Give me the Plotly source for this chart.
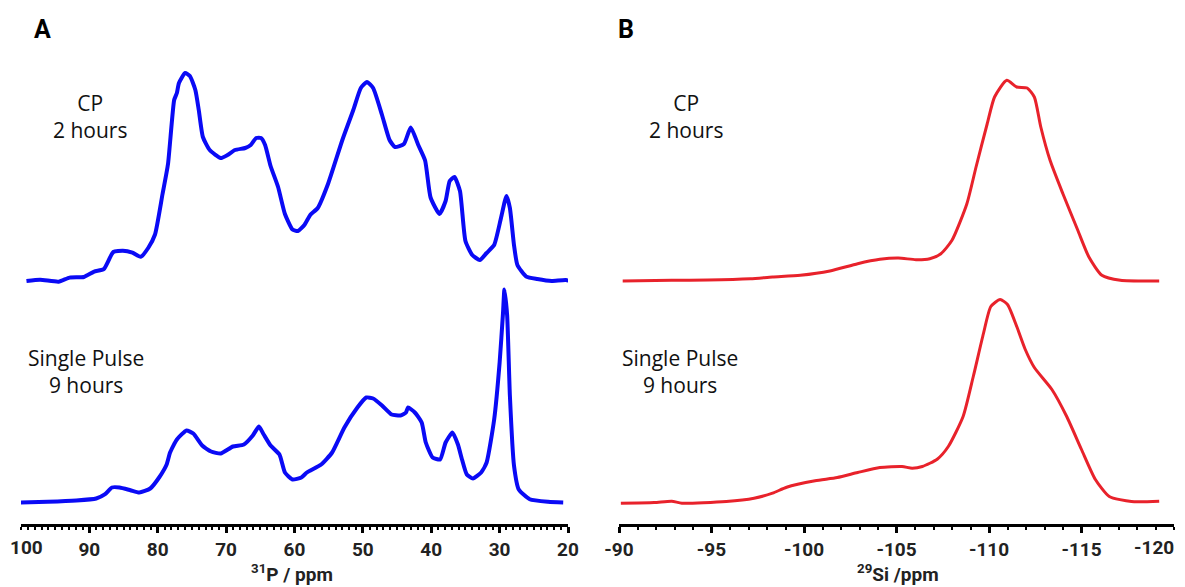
import plotly.graph_objects as go

# ---------------- data (ppm, relative intensity) ----------------
p_cp_ppm = [99.2, 97.2, 94.5, 92.9, 90.8, 89.3, 87.9, 86.5, 85.1, 83.7, 82.5, 81.4, 80.4, 79.3,
            78.5, 77.6, 77.2, 76.9, 76.0, 75.3, 74.5, 74.0, 73.4, 72.4, 70.8, 69.8, 68.7, 67.2,
            66.4, 65.6, 64.9, 64.3, 63.5, 62.4, 61.4, 60.3, 59.5, 58.5, 57.7, 56.6, 55.1, 53.0,
            51.4, 50.3, 49.4, 48.5, 47.2, 46.1, 45.3, 44.0, 43.0, 41.9, 40.9, 40.1, 38.8, 37.9,
            37.3, 36.6, 35.8, 35.0, 34.0, 32.9, 31.9, 30.8, 29.8, 29.0, 28.5, 27.9, 27.4, 26.1,
            24.5, 22.4, 20.3, 19.0]
p_cp_int = [0, 1.3, -0.7, 3.4, 4, 9.4, 11.8, 29, 30.3, 28.3, 24.2, 33, 46.5, 87,
            117, 181, 188, 198, 208, 205, 191, 171, 144, 131, 123, 126, 131, 133,
            136, 143, 143, 136, 115, 94, 67, 51.5, 50, 56.6, 66, 73, 97, 141,
            171, 193, 199, 193, 166, 141, 134, 137, 153.5, 136, 120.5, 83.5, 67, 80,
            100, 104, 90, 40, 26, 21, 28, 36, 63, 85, 73, 36, 16, 4.4,
            2, 0, 1, -2]

p_sp_ppm = [100.3, 96.1, 91.9, 89.0, 87.7, 86.7, 85.6, 84.0, 82.7, 81.1, 79.8, 78.7, 78.2, 77.2,
            75.8, 74.8, 73.5, 72.2, 70.8, 69.0, 67.4, 66.1, 65.2, 64.5, 63.5, 62.2, 61.4, 60.3,
            59.0, 58.2, 56.1, 54.5, 52.7, 50.8, 49.5, 48.5, 47.2, 45.8, 44.5, 43.7, 43.4, 42.4,
            41.4, 40.8, 39.8, 38.7, 37.9, 36.9, 36.1, 35.5, 34.8, 33.9, 32.7, 31.9, 30.8, 30.0,
            29.5, 29.3, 28.9, 28.5, 27.9, 27.2, 25.6, 22.9, 20.7]
p_sp_int = [0, 0.7, 2, 4, 8.3, 15, 15, 12.3, 10, 14, 25, 38, 50, 63,
            72, 69, 57, 51, 49, 56, 58, 67, 76, 68, 57, 48, 30, 23,
            25, 30, 38, 50, 75, 95, 105, 104, 97, 88, 87, 90, 95, 90,
            80, 60, 45, 43, 60, 70, 58, 43, 28, 24, 30, 40, 83, 140,
            190, 213, 187, 107, 37, 13, 3.3, 0.7, 0]

si_cp_ppm = [-90.2, -92.85, -94.8, -97.1, -98.3, -99.8, -101.4, -102.9, -104.1, -105.1, -106.05,
             -106.8, -107.4, -108.0, -108.8, -109.3, -109.9, -110.3, -110.96, -111.5, -112.06,
             -112.45, -112.8, -113.3, -114.0, -114.8, -115.4, -116.1, -117.1, -119.2]
si_cp_int = [0, 0.7, 1, 2.3, 4, 5.7, 10, 17.3, 21.7, 23, 21.3,
             22.3, 27.3, 40.7, 77, 114, 157, 184, 200.7, 194, 193,
             184, 154, 120.7, 87, 50.7, 24, 5.7, 0.7, 0]

si_sp_ppm = [-90.1, -91.9, -92.85, -93.4, -95.8, -97.3, -98.3, -99.06, -100.6, -101.8, -102.9,
             -104.1, -105.3, -105.85, -106.4, -107.2, -107.8, -108.6, -109.15, -109.7, -110.1,
             -110.6, -111.0, -111.5, -111.96, -112.45, -113.4, -114.2, -115.0, -115.75, -116.5,
             -117.7, -119.2]
si_sp_int = [-0.7, 0, 1.3, -0.7, 1, 4.3, 9.3, 15.3, 21.7, 25, 30,
             35, 36, 34.3, 36, 43.3, 56, 86, 126, 169, 196,
             203, 198, 176, 153, 135, 113, 86, 53, 23, 6,
             1, 1.3]

# labelled ticks
p_ticks = [100, 90, 80, 70, 60, 50, 40, 30, 20]
p_ticklabels = ["100", "90", "80", "70", "60", "50", "40", "30", "20"]
si_ticks = [-90, -95, -100, -105, -110, -115, -120]
si_ticklabels = ["-90", "-95", "-100", "-105", "-110", "-115", "-120"]
# unlabelled major ticks
p_mid_ticks = [100, 95, 85, 75, 65, 55, 45, 35, 25]
si_end_ticks = [-120]

# ---------------- layout constants ----------------
# the page body has an 8 px default margin, so the figure is 8 px smaller
SHIFT = 8
W, H = 1185 - SHIFT, 587 - SHIFT
PLOT_TOP, AXIS_Y = 40 - SHIFT, 524 - SHIFT
M_T, M_B = PLOT_TOP, H - AXIS_Y
PLOT_H = AXIS_Y - PLOT_TOP
CP_OFFSET = 243
SP_OFFSET = 21.5

BLUE = "#0a0af5"
RED = "#e8222b"
COND = "Roboto, Liberation Sans, sans-serif"
LIGHT = "Open Sans, Noto Sans, sans-serif"
TICK_FONT = dict(family=COND, size=19, color="#222", weight="bold")


def px(xr):
    return (xr - SHIFT) / W


def py(yr):
    return (AXIS_Y - (yr - SHIFT)) / PLOT_H


fig = go.Figure()
fig.add_trace(go.Scatter(x=p_cp_ppm, y=[v + CP_OFFSET for v in p_cp_int], mode="lines",
                         line=dict(color=BLUE, width=4, shape="spline", smoothing=0.5),
                         xaxis="x", yaxis="y", showlegend=False))
fig.add_trace(go.Scatter(x=p_sp_ppm, y=[v + SP_OFFSET for v in p_sp_int], mode="lines",
                         line=dict(color=BLUE, width=4, shape="spline", smoothing=0.5),
                         xaxis="x", yaxis="y", showlegend=False))
fig.add_trace(go.Scatter(x=si_cp_ppm, y=[v + CP_OFFSET for v in si_cp_int], mode="lines",
                         line=dict(color=RED, width=3, shape="spline", smoothing=0.6),
                         xaxis="x2", yaxis="y2", showlegend=False))
fig.add_trace(go.Scatter(x=si_sp_ppm, y=[v + SP_OFFSET for v in si_sp_int], mode="lines",
                         line=dict(color=RED, width=3, shape="spline", smoothing=0.6),
                         xaxis="x2", yaxis="y2", showlegend=False))

axis_common = dict(showline=True, linecolor="black", linewidth=2.5, ticks="outside",
                   ticklen=6, tickwidth=2.5, tickcolor="black", showgrid=False, zeroline=False,
                   tickfont=TICK_FONT, ticklabeloverflow="allow",
                   fixedrange=True, automargin=False, tickmode="array",
                   minor=dict(dtick=1, tick0=0, ticklen=3, tickwidth=1.5,
                              tickcolor="black", ticks="outside", showgrid=False))
overlay_common = dict(showline=False, ticks="outside", ticklen=6, tickwidth=2.5,
                      tickcolor="black", showgrid=False, zeroline=False,
                      showticklabels=False, fixedrange=True, automargin=False,
                      tickmode="array")

# end labels that would overflow the page edge are drawn as anchored annotations
p_lab_vals = p_ticks[1:]
p_lab_text = p_ticklabels[1:]
si_lab_vals = si_ticks[:-1]
si_lab_text = si_ticklabels[:-1]

A_DOM = [px(21), px(568)]
B_DOM = [px(619), px(1174)]

fig.update_layout(
    template="none",
    width=W, height=H, paper_bgcolor="white", plot_bgcolor="white",
    margin=dict(l=0, r=0, t=M_T, b=M_B, autoexpand=False),
    xaxis=dict(domain=A_DOM, range=[100, 20], tickvals=p_lab_vals,
               ticktext=p_lab_text, anchor="y", **axis_common),
    xaxis3=dict(domain=A_DOM, range=[100, 20], tickvals=p_mid_ticks, anchor="y",
                overlaying="x", side="bottom", **overlay_common),
    yaxis=dict(domain=[0, 1], range=[0, PLOT_H], visible=False, fixedrange=True),
    xaxis2=dict(domain=B_DOM, range=[-90, -120], tickvals=si_lab_vals,
                ticktext=si_lab_text, anchor="y2", **axis_common),
    xaxis4=dict(domain=B_DOM, range=[-90, -120], tickvals=si_end_ticks, anchor="y2",
                overlaying="x2", side="bottom", **overlay_common),
    yaxis2=dict(domain=[0, 1], range=[0, PLOT_H], visible=False, fixedrange=True, anchor="x2"),
)

fig.add_annotation(xref="x", yref="paper", x=p_ticks[0], y=py(547), text=p_ticklabels[0],
                   xanchor="left", yanchor="middle", xshift=-13, showarrow=False, font=TICK_FONT)
fig.add_annotation(xref="x2", yref="paper", x=si_ticks[-1], y=py(547), text=si_ticklabels[-1],
                   xanchor="right", yanchor="middle", xshift=2, showarrow=False, font=TICK_FONT)

ann = [
    dict(text="A", x=px(42), y=py(30), font=dict(family=COND, size=25, color="black", weight="bold")),
    dict(text="B", x=px(626), y=py(30), font=dict(family=COND, size=25, color="black", weight="bold")),
    dict(text="CP<br>2 hours", x=px(90), y=py(117), font=dict(family=LIGHT, size=21, color="#111")),
    dict(text="Single Pulse<br>9 hours", x=px(86), y=py(371), font=dict(family=LIGHT, size=21, color="#111")),
    dict(text="CP<br>2 hours", x=px(686), y=py(117), font=dict(family=LIGHT, size=21, color="#111")),
    dict(text="Single Pulse<br>9 hours", x=px(680), y=py(371), font=dict(family=LIGHT, size=21, color="#111")),
    dict(text="<sup>31</sup>P / ppm", x=px(292), y=py(573), font=dict(family=COND, size=19, color="#222", weight="bold")),
    dict(text="<sup>29</sup>Si /ppm", x=px(898), y=py(573), font=dict(family=COND, size=19, color="#222", weight="bold")),
]
for a in ann:
    fig.add_annotation(xref="paper", yref="paper", showarrow=False, xanchor="center",
                       yanchor="middle", align="center", **a)

fig.write_html("out.html")
